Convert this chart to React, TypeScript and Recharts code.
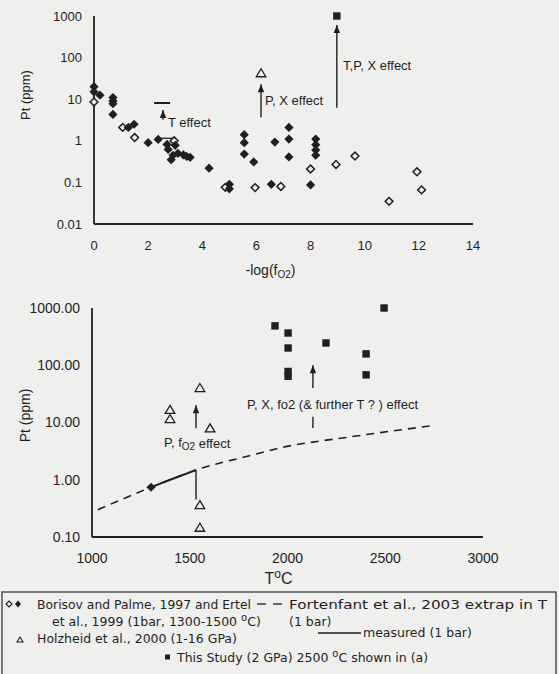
import React from 'react';
import { ComposedChart, Scatter, Line, XAxis, YAxis, ReferenceLine, ReferenceDot, Label } from 'recharts';

const INK = '#1f1f1f';
const BG = '#efefed';
const FONT = '"Liberation Sans", Arial, sans-serif';
const LEGEND_FONT = '"DejaVu Sans", Verdana, sans-serif';

// ---------- Panel (a): Pt vs -log(fO2) ----------
const borisovFilledA = [
  { x: 0, y: 20 }, { x: 0, y: 15 }, { x: 0.22, y: 12.5 }, { x: 0.7, y: 11 }, { x: 0.7, y: 9 },
  { x: 0.7, y: 7.8 }, { x: 0.7, y: 4.3 }, { x: 1.27, y: 2.1 }, { x: 1.48, y: 2.5 }, { x: 2.0, y: 0.9 },
  { x: 2.37, y: 1.08 }, { x: 2.7, y: 0.82 }, { x: 2.74, y: 0.62 }, { x: 2.85, y: 0.35 }, { x: 2.92, y: 0.45 },
  { x: 3.0, y: 0.78 }, { x: 3.1, y: 0.5 }, { x: 3.3, y: 0.46 }, { x: 3.42, y: 0.42 }, { x: 3.55, y: 0.4 },
  { x: 4.25, y: 0.22 }, { x: 5.0, y: 0.09 }, { x: 5.0, y: 0.07 }, { x: 5.55, y: 1.4 }, { x: 5.55, y: 0.9 },
  { x: 5.55, y: 0.48 }, { x: 5.9, y: 0.31 }, { x: 6.55, y: 0.09 }, { x: 6.68, y: 0.93 }, { x: 7.2, y: 2.1 },
  { x: 7.2, y: 1.1 }, { x: 7.2, y: 0.41 }, { x: 8.0, y: 0.087 }, { x: 8.19, y: 1.1 }, { x: 8.19, y: 0.8 },
  { x: 8.19, y: 0.6 }, { x: 8.19, y: 0.45 },
];
const borisovOpenA = [
  { x: 0, y: 8.6 }, { x: 1.06, y: 2.1 }, { x: 1.5, y: 1.2 }, { x: 2.96, y: 1.0 }, { x: 4.85, y: 0.076 },
  { x: 5.95, y: 0.075 }, { x: 6.9, y: 0.08 }, { x: 8.0, y: 0.21 }, { x: 8.94, y: 0.27 }, { x: 9.64, y: 0.43 },
  { x: 10.9, y: 0.035 }, { x: 11.93, y: 0.18 }, { x: 12.1, y: 0.066 },
];
const holzheidA = [{ x: 6.17, y: 42 }];
const thisStudyA = [{ x: 8.97, y: 1000 }];
const topXTicks = [0, 2, 4, 6, 8, 10, 12, 14];
const topYTicks = [0.01, 0.1, 1, 10, 100, 1000];

// ---------- Panel (b): Pt vs T ----------
const holzheidB = [
  { x: 1552, y: 40 }, { x: 1399, y: 16.6 }, { x: 1399, y: 11.5 }, { x: 1604, y: 7.9 },
  { x: 1552, y: 0.36 }, { x: 1552, y: 0.145 },
];
const borisovB = [{ x: 1302, y: 0.74 }];
const thisStudyB = [
  { x: 1936, y: 487 }, { x: 2003, y: 366 }, { x: 2003, y: 200 }, { x: 2003, y: 78 }, { x: 2003, y: 64 },
  { x: 2197, y: 245 }, { x: 2402, y: 158 }, { x: 2402, y: 68 }, { x: 2494, y: 1000 },
];
const fortenfantExtrap = [
  { x: 1030, y: 0.3 }, { x: 1150, y: 0.45 }, { x: 1302, y: 0.74 }, { x: 1400, y: 1.0 }, { x: 1532, y: 1.48 },
  { x: 1800, y: 2.6 }, { x: 1962, y: 3.6 }, { x: 2320, y: 5.6 }, { x: 2729, y: 8.7 },
];
const fortenfantMeasured = [{ x: 1302, y: 0.74 }, { x: 1400, y: 1.0 }, { x: 1532, y: 1.48 }];
const bottomXTicks = [1000, 1500, 2000, 2500, 3000];
const bottomYTicks = [0.1, 1, 10, 100, 1000];

// ---------- marker shapes ----------
const FilledDiamond = (p: any) => {
  const s = 4.6;
  return <path d={`M${p.cx},${p.cy - s}L${p.cx + s},${p.cy}L${p.cx},${p.cy + s}L${p.cx - s},${p.cy}Z`} fill={INK} />;
};
const OpenDiamond = (p: any) => {
  const s = 3.9;
  return <path d={`M${p.cx},${p.cy - s}L${p.cx + s},${p.cy}L${p.cx},${p.cy + s}L${p.cx - s},${p.cy}Z`} fill={BG} stroke={INK} strokeWidth={1.5} />;
};
const OpenTriangle = (p: any) => (
  <path d={`M${p.cx},${p.cy - 4.5}L${p.cx + 4.8},${p.cy + 3.5}L${p.cx - 4.8},${p.cy + 3.5}Z`} fill="none" stroke={INK} strokeWidth={1.3} />
);
const FilledSquare = (p: any) => <rect x={p.cx - 3.7} y={p.cy - 3.7} width={7.4} height={7.4} fill={INK} />;
const ArrowHead = (p: any) => (
  <path d={`M${p.cx},${p.cy}L${p.cx + 3.2},${p.cy + 8}L${p.cx - 3.2},${p.cy + 8}Z`} fill={INK} />
);
const annot = (content: React.ReactNode) => (p: any) => (
  <text x={p.cx} y={p.cy} dominantBaseline="central" fontFamily={FONT} fontSize={13} fill={INK}>{content}</text>
);

const axisLine = { stroke: INK, strokeWidth: 1.8 };

export default function App() {
  return (
    <div style={{ position: 'fixed', left: 0, top: 0, width: 559, height: 674, background: BG, overflow: 'hidden' }}>
      <div style={{ position: 'absolute', left: 0, top: 0 }}>
        <ComposedChart width={559} height={280} margin={{ top: 16, right: 86, bottom: 6, left: 0 }}>
          <XAxis dataKey="x" type="number" domain={[0, 14]} ticks={topXTicks}
            axisLine={axisLine} tickLine={false} tickMargin={11} height={50}
            tick={{ fill: INK, fontSize: 13, fontFamily: FONT }}>
            <Label content={(props: any) => {
              const vb = props.viewBox;
              return (
                <text x={vb.x + vb.width / 2 - 13} y={vb.y + 46} textAnchor="middle" dominantBaseline="central" fontFamily={FONT} fontSize={14} fill={INK}>
                  -log(f<tspan fontSize={10} dy={4}>O2</tspan><tspan dy={-4}>)</tspan>
                </text>
              );
            }} />
          </XAxis>
          <YAxis dataKey="y" type="number" scale="log" domain={[0.01, 1000]} ticks={topYTicks}
            axisLine={axisLine} tickLine={false} tickMargin={6} width={94}
            tick={{ fill: INK, fontSize: 13, fontFamily: FONT }}>
            <Label content={(props: any) => {
              const vb = props.viewBox;
              const cy = vb.y + vb.height / 2 - 25;
              return (
                <text x={25} y={cy} transform={`rotate(-90 25 ${cy})`} textAnchor="middle" dominantBaseline="central" fontFamily={FONT} fontSize={13} fill={INK}>Pt (ppm)</text>
              );
            }} />
          </YAxis>
          <ReferenceLine segment={[{ x: 2.22, y: 8.1 }, { x: 2.81, y: 8.1 }]} stroke={INK} strokeWidth={2} />
          <ReferenceLine segment={[{ x: 2.33, y: 1.15 }, { x: 2.92, y: 1.15 }]} stroke={INK} strokeWidth={1.3} />
          <ReferenceLine segment={[{ x: 2.55, y: 3.2 }, { x: 2.55, y: 5.5 }]} stroke={INK} strokeWidth={1.4} />
          <ReferenceLine segment={[{ x: 6.17, y: 3.7 }, { x: 6.17, y: 23 }]} stroke={INK} strokeWidth={1.4} />
          <ReferenceLine segment={[{ x: 8.97, y: 6.2 }, { x: 8.97, y: 610 }]} stroke={INK} strokeWidth={1.4} />
          <ReferenceDot x={2.55} y={5.5} r={0} shape={ArrowHead} />
          <ReferenceDot x={6.17} y={23} r={0} shape={ArrowHead} />
          <ReferenceDot x={8.97} y={610} r={0} shape={ArrowHead} />
          <ReferenceDot x={2.73} y={2.83} r={0} shape={annot('T effect')} />
          <ReferenceDot x={6.32} y={9.1} r={0} shape={annot('P, X effect')} />
          <ReferenceDot x={9.2} y={63} r={0} shape={annot('T,P, X effect')} />
          <Scatter data={borisovOpenA} shape={OpenDiamond} isAnimationActive={false} />
          <Scatter data={borisovFilledA} shape={FilledDiamond} isAnimationActive={false} />
          <Scatter data={holzheidA} shape={OpenTriangle} isAnimationActive={false} />
          <Scatter data={thisStudyA} shape={FilledSquare} isAnimationActive={false} />
        </ComposedChart>
      </div>

      <div style={{ position: 'absolute', left: 0, top: 280 }}>
        <ComposedChart width={559} height={310} margin={{ top: 28, right: 76, bottom: 3, left: 0 }}>
          <XAxis dataKey="x" type="number" domain={[1000, 3000]} ticks={bottomXTicks}
            axisLine={axisLine} tickLine={false} tickMargin={10} height={50}
            tick={{ fill: INK, fontSize: 14, fontFamily: FONT }}>
            <Label content={(props: any) => {
              const vb = props.viewBox;
              return (
                <text x={vb.x + vb.width / 2 - 9} y={vb.y + 41} textAnchor="middle" dominantBaseline="central" fontFamily={FONT} fontSize={16} fill={INK}>
                  T<tspan fontSize={12} dy={-4}>o</tspan><tspan dy={4}>C</tspan>
                </text>
              );
            }} />
          </XAxis>
          <YAxis dataKey="y" type="number" scale="log" domain={[0.1, 1000]} ticks={bottomYTicks}
            axisLine={axisLine} tickLine={false} tickMargin={6} width={92}
            tickFormatter={(v: number) => v.toFixed(2)}
            tick={{ fill: INK, fontSize: 14, fontFamily: FONT }}>
            <Label content={(props: any) => {
              const vb = props.viewBox;
              const cy = vb.y + vb.height / 2 - 7;
              return (
                <text x={25} y={cy} transform={`rotate(-90 25 ${cy})`} textAnchor="middle" dominantBaseline="central" fontFamily={FONT} fontSize={14} fill={INK}>Pt (ppm)</text>
              );
            }} />
          </YAxis>
          <Line data={fortenfantExtrap} dataKey="y" type="monotone" stroke={INK} strokeWidth={1.6} strokeDasharray="8 6" dot={false} isAnimationActive={false} />
          <Line data={fortenfantMeasured} dataKey="y" type="monotone" stroke={INK} strokeWidth={2} dot={false} isAnimationActive={false} />
          <ReferenceLine segment={[{ x: 1532, y: 1.48 }, { x: 1532, y: 0.45 }]} stroke={INK} strokeWidth={1.4} />
          <ReferenceLine segment={[{ x: 1532, y: 7.9 }, { x: 1532, y: 20 }]} stroke={INK} strokeWidth={1.4} />
          <ReferenceLine segment={[{ x: 2130, y: 40 }, { x: 2130, y: 100 }]} stroke={INK} strokeWidth={1.4} />
          <ReferenceLine segment={[{ x: 2130, y: 8 }, { x: 2130, y: 12.6 }]} stroke={INK} strokeWidth={1.4} />
          <ReferenceDot x={1532} y={20} r={0} shape={ArrowHead} />
          <ReferenceDot x={2130} y={100} r={0} shape={ArrowHead} />
          <ReferenceDot x={1368} y={4.4} r={0} shape={annot(<>P, f<tspan fontSize={10} dy={3}>O2</tspan><tspan dy={-3}> effect</tspan></>)} />
          <ReferenceDot x={1793} y={21} r={0} shape={annot('P, X, fo2 (& further T ? ) effect')} />
          <Scatter data={holzheidB} shape={OpenTriangle} isAnimationActive={false} />
          <Scatter data={borisovB} shape={FilledDiamond} isAnimationActive={false} />
          <Scatter data={thisStudyB} shape={FilledSquare} isAnimationActive={false} />
        </ComposedChart>
      </div>

      <svg style={{ position: 'absolute', left: 0, top: 590 }} width={559} height={84}>
        <rect x={2} y={2} width={554} height={100} fill="none" stroke="#3a3a3a" strokeWidth={1.3} />
        <g fontFamily={LEGEND_FONT} fontSize={12.5} fill={INK}>
          <path d="M6,14 L9,11 L12,14 L9,17 Z" fill="none" stroke={INK} strokeWidth={1.1} />
          <path d="M15,14 L18,10.5 L21,14 L18,17.5 Z" fill={INK} />
          <text x={37} y={14.5} dominantBaseline="central" textLength={214} lengthAdjust="spacingAndGlyphs">Borisov and Palme, 1997 and Ertel</text>
          <text x={52} y={31} dominantBaseline="central">et al., 1999 (1bar, 1300-1500 <tspan fontSize={10} dy={-4}>o</tspan><tspan dy={4}>C)</tspan></text>
          <path d="M20,47 L23,52 L17,52 Z" fill="none" stroke={INK} strokeWidth={1.1} />
          <text x={37} y={48.5} dominantBaseline="central">Holzheid et al., 2000 (1-16 GPa)</text>
          <line x1={257} y1={14} x2={266} y2={14} stroke={INK} strokeWidth={1.3} />
          <line x1={273} y1={14} x2={282} y2={14} stroke={INK} strokeWidth={1.3} />
          <text x={289} y={14.5} dominantBaseline="central" textLength={258} lengthAdjust="spacingAndGlyphs">Fortenfant et al., 2003 extrap in T</text>
          <text x={289} y={31} dominantBaseline="central">(1 bar)</text>
          <line x1={318} y1={43} x2={361} y2={43} stroke={INK} strokeWidth={1.3} />
          <text x={363} y={42} dominantBaseline="central">measured (1 bar)</text>
          <rect x={165} y={64.5} width={5} height={5} fill={INK} />
          <text x={177} y={67} dominantBaseline="central">This Study (2 GPa) 2500 <tspan fontSize={10} dy={-4}>o</tspan><tspan dy={4}>C shown in (a)</tspan></text>
        </g>
      </svg>
    </div>
  );
}
